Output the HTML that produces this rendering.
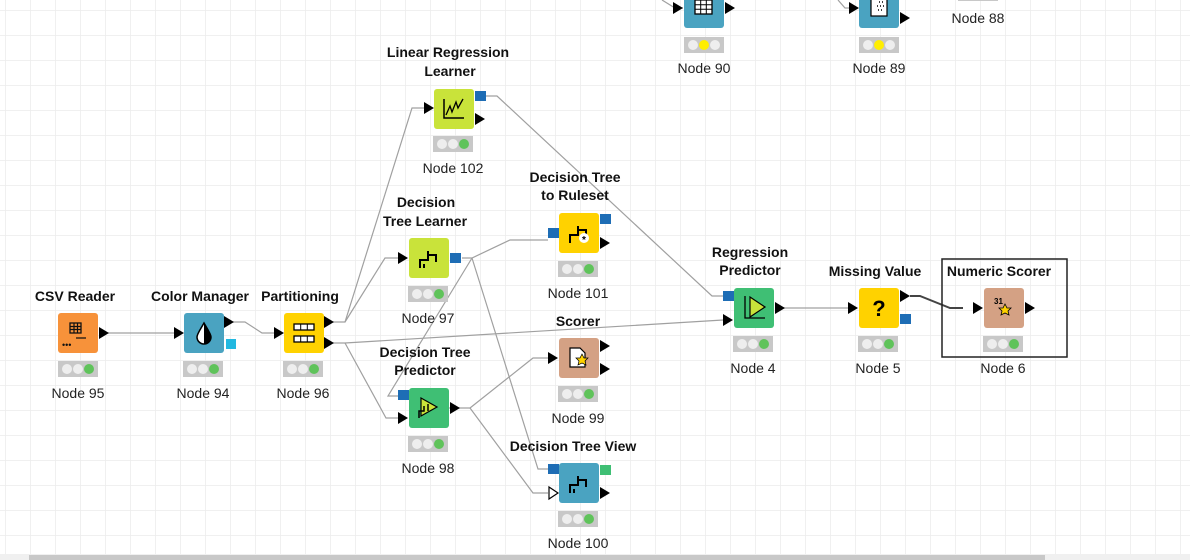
<!DOCTYPE html>
<html><head><meta charset="utf-8"><style>
html,body{margin:0;padding:0;background:#fff;}
svg{display:block;font-family:"Liberation Sans",Arial,sans-serif;}
.t{font-size:14px;font-weight:bold;text-anchor:middle;fill:#111;}
.l{font-size:14px;text-anchor:middle;fill:#222;}
.e{fill:none;stroke:#a0a0a0;stroke-width:1.2;}
</style></head><body>
<svg width="1190" height="560" viewBox="0 0 1190 560">
<defs>
<pattern id="g" x="5" y="10" width="25" height="25" patternUnits="userSpaceOnUse">
<path d="M0 0H25M0 0V25" stroke="#ececec" stroke-width="1.5" fill="none"/>
</pattern>
<g id="st"><rect x="-20" y="-8" width="40" height="16" fill="#c8c8c8"/><circle cx="-11" cy="0" r="5" fill="#eee"/><circle cx="0" cy="0" r="5" fill="#eee"/><circle cx="11" cy="0" r="5" fill="#5fc35a"/></g>
<g id="sty"><rect x="-20" y="-8" width="40" height="16" fill="#c8c8c8"/><circle cx="-11" cy="0" r="5" fill="#eee"/><circle cx="0" cy="0" r="5" fill="#ffee00"/><circle cx="11" cy="0" r="5" fill="#eee"/></g>
<path id="tri" d="M0 -6L10 0L0 6Z" fill="#000"/>
</defs>
<rect width="1190" height="560" fill="url(#g)"/>

<!-- edges -->
<path class="e" d="M108 333H174"/>
<path class="e" d="M233 322H245L262 333H274"/>
<path class="e" d="M333 322H345L412 108H424"/>
<path class="e" d="M345 322L385 258H398"/>
<path class="e" d="M333 343H345L723 320"/>
<path class="e" d="M345 343L386 418H398"/>
<path class="e" d="M462 258H472L510 240H548"/>
<path class="e" d="M472 258L388 396H398"/>
<path class="e" d="M472 258L538 469H548"/>
<path class="e" d="M486 96H497L712 296H723"/>
<path class="e" d="M448 408H470L533 358H548"/>
<path class="e" d="M470 408L533 493H548"/>
<path class="e" d="M783 308H848"/>
<path d="M910 296H920L950 308H963" fill="none" stroke="#444" stroke-width="2"/>
<path class="e" d="M662 0L675 8H683"/>
<path class="e" d="M838 0L845 8H858"/>

<!-- selection -->
<rect x="942" y="259" width="125" height="98" fill="none" stroke="#222" stroke-width="1.5"/>

<!-- Node 95 -->
<text class="t" x="75" y="301">CSV Reader</text>
<rect x="58" y="313" width="40" height="40" rx="3" fill="#f7923a"/>
<rect x="70" y="323" width="11" height="10" fill="none" stroke="#111" stroke-width="1.3"/><path d="M70 326.5H81M70 329.5H81M74 323V333M77.5 323V333M76 338H86" stroke="#111" stroke-width="1.2"/><text x="62" y="348" font-size="9" fill="#111">•••</text>
<use href="#tri" x="99" y="333"/>
<use href="#st" x="78" y="369"/><text class="l" x="78" y="398">Node 95</text>

<!-- Node 94 -->
<text class="t" x="200" y="301">Color Manager</text>
<use href="#tri" x="174" y="333"/>
<rect x="184" y="313" width="40" height="40" rx="3" fill="#4aa3c1"/>
<path d="M204 323C200 330 197 334 197 337A7 7 0 0 0 211 337C211 334 208 330 204 323Z" fill="#fff" stroke="#000" stroke-width="1.5"/><path d="M204 323C208 330 211 334 211 337A7 7 0 0 1 204 344Z" fill="#000"/>
<use href="#tri" x="224" y="322"/><rect x="226" y="339" width="10" height="10" fill="#22b8e0"/>
<use href="#st" x="203" y="369"/><text class="l" x="203" y="398">Node 94</text>

<!-- Node 96 -->
<text class="t" x="300" y="301">Partitioning</text>
<use href="#tri" x="274" y="333"/>
<rect x="284" y="313" width="40" height="40" rx="3" fill="#ffd200"/>
<rect x="294" y="324" width="20" height="6" fill="#fff" stroke="#000" stroke-width="1.3"/><rect x="294" y="336" width="20" height="6" fill="#fff" stroke="#000" stroke-width="1.3"/><path d="M300.7 324V330M307.3 324V330M300.7 336V342M307.3 336V342" stroke="#000"/>
<use href="#tri" x="324" y="322"/><use href="#tri" x="324" y="343"/>
<use href="#st" x="303" y="369"/><text class="l" x="303" y="398">Node 96</text>

<!-- Node 102 -->
<text class="t" x="448" y="57">Linear Regression</text><text class="t" x="450" y="76">Learner</text>
<use href="#tri" x="424" y="108"/>
<rect x="434" y="89" width="40" height="40" rx="3" fill="#c9e33a"/>
<path d="M444 99V118H464" fill="none" stroke="#000" stroke-width="1.5"/><path d="M446 115L450 106L452 112L456 102L458 108L463 99" fill="none" stroke="#000" stroke-width="1.3"/>
<rect x="475" y="91" width="11" height="10" fill="#1e6db5"/><use href="#tri" x="475" y="119"/>
<use href="#st" x="453" y="144"/><text class="l" x="453" y="173">Node 102</text>

<!-- Node 97 -->
<text class="t" x="426" y="207">Decision</text><text class="t" x="425" y="226">Tree Learner</text>
<use href="#tri" x="398" y="258"/>
<rect x="409" y="238" width="40" height="40" rx="3" fill="#c9e33a"/>
<path d="M420 268V260H428V251M428 255H436V262M424 268V264" fill="none" stroke="#000" stroke-width="2"/>
<rect x="450" y="253" width="11" height="10" fill="#1e6db5"/>
<use href="#st" x="428" y="294"/><text class="l" x="428" y="323">Node 97</text>

<!-- Node 101 -->
<text class="t" x="575" y="182">Decision Tree</text><text class="t" x="575" y="200">to Ruleset</text>
<rect x="548" y="228" width="11" height="10" fill="#1e6db5"/>
<rect x="559" y="213" width="40" height="40" rx="3" fill="#ffd200"/>
<path d="M570 243V235H578V226M578 230H586V237" fill="none" stroke="#000" stroke-width="2"/><circle cx="584" cy="238" r="5" fill="#fff"/><text x="584" y="243" font-size="10" font-weight="bold" text-anchor="middle">*</text>
<rect x="600" y="214" width="11" height="10" fill="#1e6db5"/><use href="#tri" x="600" y="243"/>
<use href="#st" x="578" y="269"/><text class="l" x="578" y="298">Node 101</text>

<!-- Node 98 -->
<text class="t" x="425" y="357">Decision Tree</text><text class="t" x="425" y="375">Predictor</text>
<rect x="398" y="390" width="11" height="10" fill="#1e6db5"/><use href="#tri" x="398" y="418"/>
<rect x="409" y="388" width="40" height="40" rx="3" fill="#3fbf74"/>
<path d="M421 398L437 407L421 416Z" fill="#c9e33a" stroke="#000" stroke-width="1.2"/><path d="M419 418V411H424V406M428 411V404" fill="none" stroke="#000" stroke-width="1.5"/>
<use href="#tri" x="450" y="408"/>
<use href="#st" x="428" y="444"/><text class="l" x="428" y="473">Node 98</text>

<!-- Node 99 -->
<text class="t" x="578" y="326">Scorer</text>
<use href="#tri" x="548" y="358"/>
<rect x="559" y="338" width="40" height="40" rx="3" fill="#d4a184"/>
<path d="M570 348H580L585 353V367H570Z" fill="#fff" stroke="#000" stroke-width="1.2"/><path d="M582 354L584 358L588 358L585 361L586 365L582 363L578 365L579 361L576 358L580 358Z" fill="#ffd200" stroke="#000" stroke-width=".7"/>
<use href="#tri" x="600" y="346"/><use href="#tri" x="600" y="369"/>
<use href="#st" x="578" y="394"/><text class="l" x="578" y="423">Node 99</text>

<!-- Node 100 -->
<text class="t" x="573" y="451">Decision Tree View</text>
<rect x="548" y="464" width="11" height="10" fill="#1e6db5"/>
<path d="M549 487L558 493L549 499Z" fill="#fff" stroke="#000" stroke-width="1.2"/>
<rect x="559" y="463" width="40" height="40" rx="3" fill="#4aa3c1"/>
<path d="M570 493V485H578V476M578 480H586V487M574 493V489" fill="none" stroke="#000" stroke-width="2"/>
<rect x="600" y="465" width="11" height="10" fill="#3fbf74"/><use href="#tri" x="600" y="493"/>
<use href="#st" x="578" y="519"/><text class="l" x="578" y="548">Node 100</text>

<!-- Node 4 -->
<text class="t" x="750" y="257">Regression</text><text class="t" x="750" y="275">Predictor</text>
<rect x="723" y="291" width="11" height="10" fill="#1e6db5"/><use href="#tri" x="723" y="320"/>
<rect x="734" y="288" width="40" height="40" rx="3" fill="#3fbf74"/>
<path d="M745 296V318H765" fill="none" stroke="#000" stroke-width="1.3"/><path d="M750 297L765 307L750 317Z" fill="#c9e33a" stroke="#000" stroke-width="1.2"/>
<use href="#tri" x="775" y="308"/>
<use href="#st" x="753" y="344"/><text class="l" x="753" y="373">Node 4</text>

<!-- Node 5 -->
<text class="t" x="875" y="276">Missing Value</text>
<use href="#tri" x="848" y="308"/>
<rect x="859" y="288" width="40" height="40" rx="3" fill="#ffd200"/>
<text x="879" y="316" font-size="22" font-weight="bold" text-anchor="middle">?</text>
<use href="#tri" x="900" y="296"/><rect x="900" y="314" width="11" height="10" fill="#1e6db5"/>
<use href="#st" x="878" y="344"/><text class="l" x="878" y="373">Node 5</text>

<!-- Node 6 -->
<text class="t" x="999" y="276">Numeric Scorer</text>
<use href="#tri" x="973" y="308"/>
<rect x="984" y="288" width="40" height="40" rx="3" fill="#d4a184"/>
<text x="994" y="304" font-size="8" font-weight="bold">31</text><path d="M1005 304L1007 308L1011 308L1008 311L1009 315L1005 313L1001 315L1002 311L999 308L1003 308Z" fill="#ffd200" stroke="#000" stroke-width=".8"/>
<use href="#tri" x="1025" y="308"/>
<use href="#st" x="1003" y="344"/><text class="l" x="1003" y="373">Node 6</text>

<!-- top nodes -->
<use href="#tri" x="673" y="8"/>
<rect x="684" y="-12" width="40" height="40" rx="3" fill="#4aa3c1"/>
<rect x="695" y="0" width="17" height="14" fill="#fff" stroke="#000" stroke-width="1.3"/><path d="M695 4.7H712M695 9.3H712M700.7 0V14M706.3 0V14" stroke="#000"/>
<use href="#tri" x="725" y="8"/>
<use href="#sty" x="704" y="45"/><text class="l" x="704" y="73">Node 90</text>

<use href="#tri" x="849" y="8"/>
<rect x="859" y="-12" width="40" height="40" rx="3" fill="#4aa3c1"/>
<rect x="871" y="-4" width="16" height="20" fill="#fff" stroke="#000" stroke-width="1.2"/><path d="M879 2h1M882 2h1M877 6h1M880 6h1M883 6h1M878 10h1M881 10h1" stroke="#000" stroke-width="1.5"/>
<use href="#tri" x="900" y="18"/><rect x="900" y="-6" width="11" height="6" fill="#3fbf74"/>
<use href="#sty" x="879" y="45"/><text class="l" x="879" y="73">Node 89</text>

<rect x="958" y="-6" width="40" height="7" fill="#c8c8c8"/>
<text class="l" x="978" y="23">Node 88</text>

<!-- scrollbar -->
<rect x="0" y="554" width="1190" height="6" fill="#f0f0f0"/>
<rect x="29" y="555" width="1016" height="5" fill="#c8c8c8"/>
</svg>
</body></html>
